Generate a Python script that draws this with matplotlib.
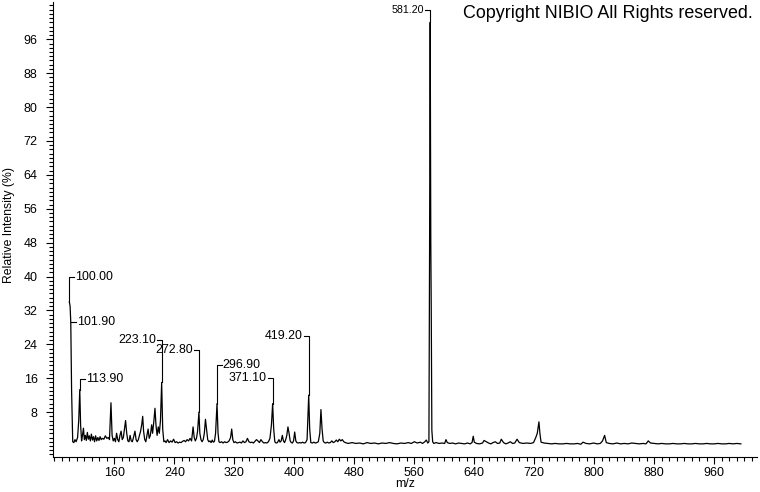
import numpy as np
import matplotlib
matplotlib.use("Agg")
import matplotlib.pyplot as plt
from matplotlib.ticker import MultipleLocator, FixedLocator

plt.rcParams['font.family'] = ['Liberation Sans', 'DejaVu Sans']

# spectrum profile (m/z, relative intensity %)
mz = [
    100.0, 101.0, 101.9, 103.0, 104.5, 106.0, 107.5, 109.0, 111.0, 112.5,
    113.9, 115.0, 116.3, 117.5, 118.8, 120.0, 121.3, 122.6, 124.0, 125.3,
    126.6, 128.0, 129.4, 130.8, 132.2, 133.6, 135.0, 136.5, 138.0, 139.5,
    141.0, 142.5, 144.0, 146.0, 148.0, 150.0, 152.0, 153.5, 155.5, 157.0,
    158.5, 160.0, 161.5, 163.0, 164.5, 166.0, 167.5, 169.0, 170.5, 172.0,
    173.5, 175.0, 176.5, 178.0, 179.5, 181.0, 182.5, 184.0, 185.5, 187.5,
    189.0, 190.5, 192.0, 193.5, 195.0, 196.5, 197.8, 199.0, 200.5, 202.0,
    203.5, 205.0, 206.5, 208.0, 209.8, 211.0, 212.5, 214.2, 215.5, 217.0,
    218.6, 220.0, 221.5, 223.1, 224.5, 226.0, 227.5, 229.0, 231.0, 233.0,
    235.0, 237.0, 239.0, 241.0, 243.0, 245.0, 247.0, 249.0, 251.0, 253.0,
    255.0, 257.0, 259.0, 261.0, 263.0, 265.0, 266.5, 268.0, 269.5, 271.0,
    272.8, 274.0, 275.5, 277.0, 278.5, 280.0, 281.5, 283.0, 284.5, 286.0,
    287.5, 289.0, 290.5, 292.0, 293.5, 295.0, 296.9, 298.3, 299.5, 301.0,
    303.0, 305.0, 307.0, 309.0, 311.0, 313.0, 315.0, 316.5, 318.0, 319.5,
    321.5, 323.5, 325.5, 327.5, 329.5, 331.5, 333.5, 335.5, 337.5, 339.5,
    341.5, 343.5, 345.5, 347.5, 349.5, 351.5, 353.5, 355.5, 357.5, 359.5,
    361.5, 363.5, 365.5, 367.5, 369.5, 371.1, 372.5, 374.0, 375.5, 377.5,
    379.5, 381.0, 382.5, 384.0, 385.5, 387.0, 388.5, 390.0, 391.5, 393.0,
    394.5, 396.0, 397.5, 399.0, 400.5, 402.0, 403.5, 405.0, 407.0, 409.0,
    411.0, 413.0, 415.0, 417.0, 418.0, 419.2, 420.5, 422.0, 424.0, 426.0,
    428.0, 430.0, 432.0, 434.0, 435.5, 437.0, 438.5, 440.0, 442.0, 444.0,
    446.0, 448.0, 450.0, 452.0, 454.0, 456.0, 458.0, 460.0, 462.0, 464.0,
    466.0, 468.0, 472.0, 477.0, 482.0, 487.0, 492.0, 497.0, 502.0, 507.0,
    512.0, 517.0, 522.0, 527.0, 532.0, 537.0, 542.0, 547.0, 552.0, 556.0,
    560.0, 564.0, 568.0, 571.0, 574.0, 576.0, 578.0, 579.5, 580.4, 581.2,
    581.6, 582.0, 582.6, 583.4, 584.5, 586.0, 589.0, 593.0, 597.0, 600.5,
    602.2, 604.0, 607.0, 611.0, 615.0, 619.0, 623.0, 627.0, 631.0, 634.5,
    637.0, 638.6, 640.0, 643.0, 647.0, 651.0, 653.0, 656.0, 659.0, 662.0,
    665.0, 668.0, 671.0, 674.0, 676.0, 679.0, 682.0, 685.0, 688.0, 691.0,
    694.0, 697.0, 700.0, 705.0, 710.0, 715.0, 719.0, 722.0, 724.0, 726.2,
    727.5, 729.0, 733.0, 738.0, 743.0, 748.0, 753.0, 758.0, 763.0, 768.0,
    773.0, 778.0, 782.0, 785.0, 789.0, 794.0, 799.0, 804.0, 808.0, 811.0,
    813.8, 816.0, 820.0, 825.0, 830.0, 835.0, 840.0, 845.0, 850.0, 855.0,
    860.0, 865.0, 869.0, 872.0, 875.0, 880.0, 885.0, 890.0, 895.0, 900.0,
    905.0, 910.0, 915.0, 920.0, 925.0, 930.0, 935.0, 940.0, 945.0, 950.0,
    955.0, 960.0, 965.0, 970.0, 975.0, 980.0, 985.0, 990.0, 995.5,
]
intensity = [
    34.0, 33.0, 29.2, 13.0, 1.0, 0.8, 1.5, 1.0, 2.0, 6.0,
    13.3, 5.0, 1.2, 2.5, 4.2, 1.5, 2.5, 1.3, 3.2, 1.6,
    2.4, 1.2, 2.8, 1.4, 2.2, 1.0, 2.4, 1.2, 2.0, 1.3,
    2.2, 1.5, 1.8, 1.6, 2.4, 1.8, 2.0, 1.5, 10.2, 2.5,
    1.2, 1.8, 1.0, 3.0, 1.5, 1.0, 2.5, 3.5, 1.5, 2.0,
    4.0, 6.0, 3.0, 1.2, 1.0, 2.5, 1.2, 1.0, 2.0, 3.5,
    1.5, 1.0, 1.5, 2.5, 3.5, 5.0, 7.0, 3.5, 1.5, 1.0,
    2.5, 4.0, 1.8, 2.5, 5.0, 3.0, 5.5, 8.9, 5.0, 2.5,
    4.5, 3.0, 6.0, 15.0, 4.0, 1.0, 1.2, 0.8, 1.5, 0.8,
    1.2, 0.9, 1.6, 0.8, 1.0, 0.7, 0.9, 0.8, 1.1, 1.3,
    1.0, 1.5, 1.2, 1.8, 1.2, 4.5, 2.0, 1.2, 1.8, 3.5,
    8.0, 3.0, 1.5, 1.0, 1.5, 3.0, 6.3, 4.0, 1.5, 1.0,
    1.2, 0.8, 1.4, 0.9, 1.1, 3.0, 10.0, 3.0, 1.0, 0.8,
    1.0, 0.7, 1.0, 0.8, 0.9, 1.2, 2.0, 4.0, 1.5, 0.8,
    1.0, 0.7, 0.8, 0.9, 0.7, 1.2, 0.8, 1.0, 1.8, 1.0,
    0.8, 0.9, 0.7, 1.1, 1.5, 1.2, 0.8, 1.5, 1.0, 0.7,
    0.8, 0.7, 1.0, 1.8, 5.0, 10.0, 4.0, 1.0, 0.7, 0.8,
    1.5, 0.9, 1.2, 2.5, 1.2, 0.8, 1.5, 2.5, 4.5, 3.0,
    1.2, 0.8, 0.7, 1.2, 3.3, 1.2, 0.8, 0.7, 0.8, 0.7,
    0.9, 0.7, 0.8, 1.5, 6.0, 12.0, 4.0, 0.8, 0.7, 0.9,
    0.7, 0.8, 1.0, 3.0, 8.6, 4.0, 1.2, 0.8, 0.7, 0.9,
    0.7, 0.8, 1.2, 0.8, 1.0, 1.4, 1.0, 1.6, 1.2, 1.5,
    1.0, 0.8, 0.6, 0.8, 0.6, 0.7, 0.5, 0.8, 0.6, 0.7,
    0.5, 0.7, 0.6, 0.8, 0.6, 0.5, 0.7, 0.6, 0.8, 0.6,
    1.0, 0.7, 0.9, 0.6, 1.0, 1.4, 0.7, 1.0, 48.0, 100.0,
    77.0, 48.0, 32.0, 3.7, 1.0, 0.6, 0.8, 0.6, 0.7, 0.6,
    1.5, 0.8, 0.6, 0.7, 0.5, 0.7, 0.6, 0.5, 0.7, 0.5,
    0.8, 2.3, 0.9, 0.6, 0.5, 0.7, 1.3, 1.0, 0.7, 0.5,
    0.8, 1.0, 0.6, 0.7, 1.6, 0.8, 0.5, 0.7, 1.0, 0.6,
    0.7, 1.6, 0.8, 0.6, 0.7, 0.6, 0.8, 2.0, 3.0, 5.7,
    3.0, 0.9, 0.7, 0.6, 0.5, 0.6, 0.5, 0.5, 0.6, 0.5,
    0.5, 0.6, 0.4, 0.9, 0.6, 0.5, 0.7, 0.5, 0.6, 1.2,
    2.5, 0.8, 0.6, 0.5, 0.7, 0.5, 0.6, 0.5, 0.7, 0.6,
    0.5, 0.6, 0.5, 1.2, 0.7, 0.6, 0.5, 0.6, 0.5, 0.5,
    0.6, 0.5, 0.5, 0.6, 0.5, 0.5, 0.6, 0.5, 0.5, 0.6,
    0.5, 0.5, 0.6, 0.5, 0.5, 0.6, 0.5, 0.6, 0.5,
]

# annotated peaks: label, peak m/z, peak intensity, label height, side of text
peak_labels = ["100.00", "101.90", "113.90", "223.10", "272.80",
               "296.90", "371.10", "419.20", "581.20"]
peak_mz = [100.0, 101.9, 113.9, 223.1, 272.8, 296.9, 371.1, 419.2, 581.2]
peak_int = [34.0, 29.2, 13.3, 15.0, 8.0, 10.0, 10.0, 12.0, 100.0]
label_y = [40.0, 29.2, 15.8, 25.0, 22.6, 19.0, 16.0, 26.0, 102.8]
label_side = ["r", "r", "r", "l", "l", "r", "l", "l", "l"]

fig = plt.figure(figsize=(7.6, 4.92), dpi=100)
ax = fig.add_axes([53 / 760, 35 / 492, 704 / 760, 455 / 492])

ax.plot(mz, intensity, color="black", lw=0.9)

for lab, x, yp, yl, side in zip(peak_labels, peak_mz, peak_int, label_y, label_side):
    d = 6.5 if side == "r" else -6.5
    ax.plot([x, x, x + d], [yp, yl, yl], color="black", lw=0.8)
    fs = 7.7 if lab == "581.20" else 8.9
    ax.text(x + d * 1.2, yl, lab, ha="left" if side == "r" else "right",
            va="center", fontsize=fs)

ax.set_xlim(78.2, 1017)
ax.set_ylim(-2.6, 104.8)

ax.xaxis.set_major_locator(FixedLocator(np.arange(160, 961, 80)))
ax.xaxis.set_minor_locator(FixedLocator(np.arange(80, 1011, 10)))
ax.yaxis.set_major_locator(FixedLocator(np.arange(8, 97, 8)))
ax.yaxis.set_minor_locator(MultipleLocator(1))

ax.tick_params(axis="both", which="major", direction="out", length=5, width=0.8,
               labelsize=9, color="black")
ax.tick_params(axis="both", which="minor", direction="out", length=3, width=0.8,
               color="black")
ax.tick_params(axis="y", which="major", pad=6)
ax.tick_params(axis="x", which="major", pad=2)

for s in ["top", "right"]:
    ax.spines[s].set_visible(False)
for s in ["left", "bottom"]:
    ax.spines[s].set_linewidth(0.8)

fig.text(9.5 / 760, 1 - 225 / 492, "Relative Intensity (%)", rotation=90,
         ha="center", va="center", fontsize=8.8)
fig.text(405 / 760, 1 - 484 / 492, "m/z", ha="center", va="center", fontsize=8.8)
fig.text(753 / 760, 1 - 14 / 492, "Copyright NIBIO All Rights reserved.",
         ha="right", va="center", fontsize=12.9)

fig.savefig("out.png", dpi=100)
